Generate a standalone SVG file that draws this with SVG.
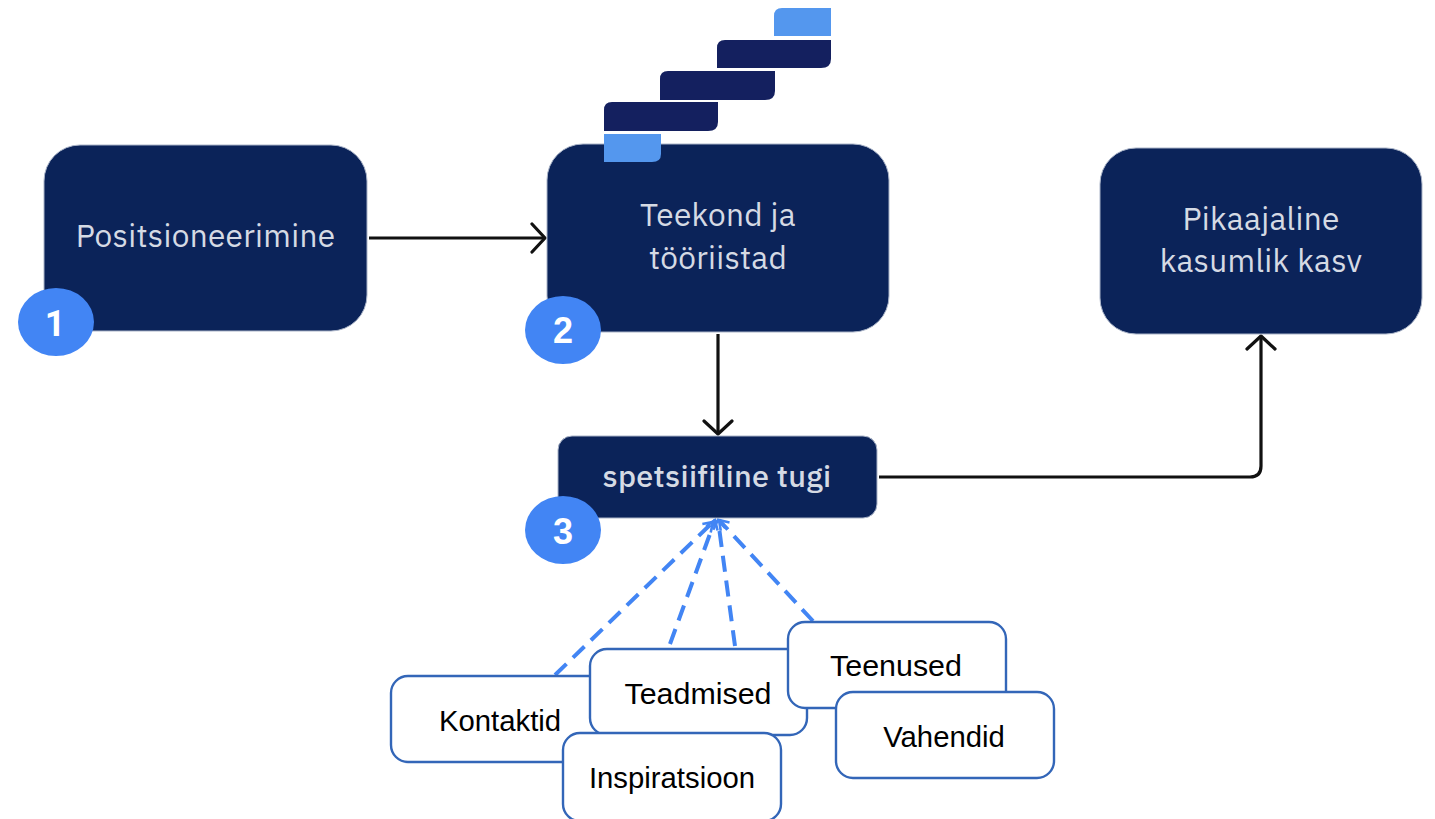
<svg xmlns="http://www.w3.org/2000/svg" width="1435" height="819" viewBox="0 0 1435 819">
<defs>
<marker id="arrow" markerUnits="userSpaceOnUse" markerWidth="20" markerHeight="32" refX="15" refY="16" orient="auto" viewBox="0 0 20 32"><path d="M2 2 L15 16 L2 30" fill="none" stroke="#111" stroke-width="3.2" stroke-linecap="round" stroke-linejoin="round"/></marker>
<marker id="barb" markerUnits="userSpaceOnUse" markerWidth="14" markerHeight="16" refX="11" refY="8" orient="auto" viewBox="0 0 14 16"><path d="M2 2 L11 8 L2 14" fill="none" stroke="#4285f4" stroke-width="2.6"/></marker>
</defs>
<style>
.dark{fill:#0b2359;stroke:#aab4c8;stroke-width:1}
.t{font-family:"IBM Plex Sans","Inter","Noto Sans",sans-serif;font-size:31.6px;fill:#d5dae4;text-anchor:middle;letter-spacing:.3px}
.sm{font-size:30.6px;font-weight:500}
.n{fill:#4285f4}
.nt{font-family:"Liberation Sans",Arial,sans-serif;font-weight:700;font-size:36px;fill:#fff;text-anchor:middle}
.nr{font-family:Roboto,"Liberation Sans",sans-serif}
.b{fill:#fff;stroke:#3366b8;stroke-width:2.4}
.bt{font-family:"Liberation Sans",Arial,sans-serif;font-size:29.3px;fill:#000;text-anchor:middle}
.bw{font-size:30.4px}
.k{fill:none;stroke:#111;stroke-width:3.2;stroke-linejoin:round}
.d{fill:none;stroke:#4285f4;stroke-width:4;stroke-dasharray:16 9}
.st{fill:#14205f}.lt{fill:#5497ee}
</style>
<g id="connectors">
<path class="k" d="M369 238H545" marker-end="url(#arrow)"/>
<path class="k" d="M718 334V434" marker-end="url(#arrow)"/>
<path class="k" d="M879 477H1250Q1261 477 1261 466V336" marker-end="url(#arrow)"/>
<path class="d" d="M555 675L713 522" marker-end="url(#barb)"/>
<path class="d" d="M670 644L715 520" marker-end="url(#barb)"/>
<path class="d" d="M735 646L718 520" marker-end="url(#barb)"/>
<path class="d" d="M813 621L719 520" marker-end="url(#barb)"/>
</g>
<g id="node-positsioneerimine"><rect class="dark" x="44" y="145" width="323" height="186" rx="36"/><text class="t" x="205.500" y="247">Positsioneerimine</text></g>
<g id="node-teekond"><rect class="dark" x="547" y="144" width="342" height="188" rx="36"/><text class="t" x="718" y="226">Teekond ja</text><text class="t" x="718" y="269">tööriistad</text></g>
<g id="node-kasv"><rect class="dark" x="1100" y="148" width="322" height="186" rx="36"/><text class="t" x="1261" y="230">Pikaajaline</text><text class="t" x="1261" y="272">kasumlik kasv</text></g>
<g id="node-tugi"><rect class="dark" x="558" y="436" width="319" height="82" rx="14"/><text class="t sm" x="717" y="487">spetsiifiline tugi</text></g>
<g id="stairs">
<path class="lt" d="M604 134H661V154Q661 162 652 162H604Z"/>
<path class="st" d="M604 110Q604 102 612 102H718V122Q718 131 708 131H604Z"/>
<path class="st" d="M660 79Q660 71 668 71H775V91Q775 100 765 100H660Z"/>
<path class="st" d="M717 48Q717 40 725 40H831V59Q831 68 821 68H717Z"/>
<path class="lt" d="M774 16Q774 8 782 8H831V36H774Z"/>
</g>
<g id="badge-1"><ellipse class="n" cx="56" cy="322" rx="38" ry="34"/><text class="nt nr" x="55" y="336">1</text></g>
<g id="badge-2"><ellipse class="n" cx="563" cy="330" rx="38" ry="34"/><text class="nt" x="563" y="343">2</text></g>
<g id="badge-3"><ellipse class="n" cx="563" cy="530" rx="38" ry="34"/><text class="nt" x="563" y="544">3</text></g>
<g id="node-kontaktid"><rect class="b" x="391" y="676" width="218" height="86" rx="17"/><text class="bt" x="500" y="731">Kontaktid</text></g>
<g id="node-teadmised"><rect class="b" x="590" y="649" width="217" height="86" rx="17"/><text class="bt bw" x="698" y="704">Teadmised</text></g>
<g id="node-inspiratsioon"><rect class="b" x="563" y="733" width="218" height="88" rx="17"/><text class="bt" x="672" y="788">Inspiratsioon</text></g>
<g id="node-teenused"><rect class="b" x="788" y="622" width="218" height="86" rx="17"/><text class="bt bw" x="896" y="676">Teenused</text></g>
<g id="node-vahendid"><rect class="b" x="836" y="692" width="218" height="86" rx="17"/><text class="bt" x="944" y="747">Vahendid</text></g>
</svg>
